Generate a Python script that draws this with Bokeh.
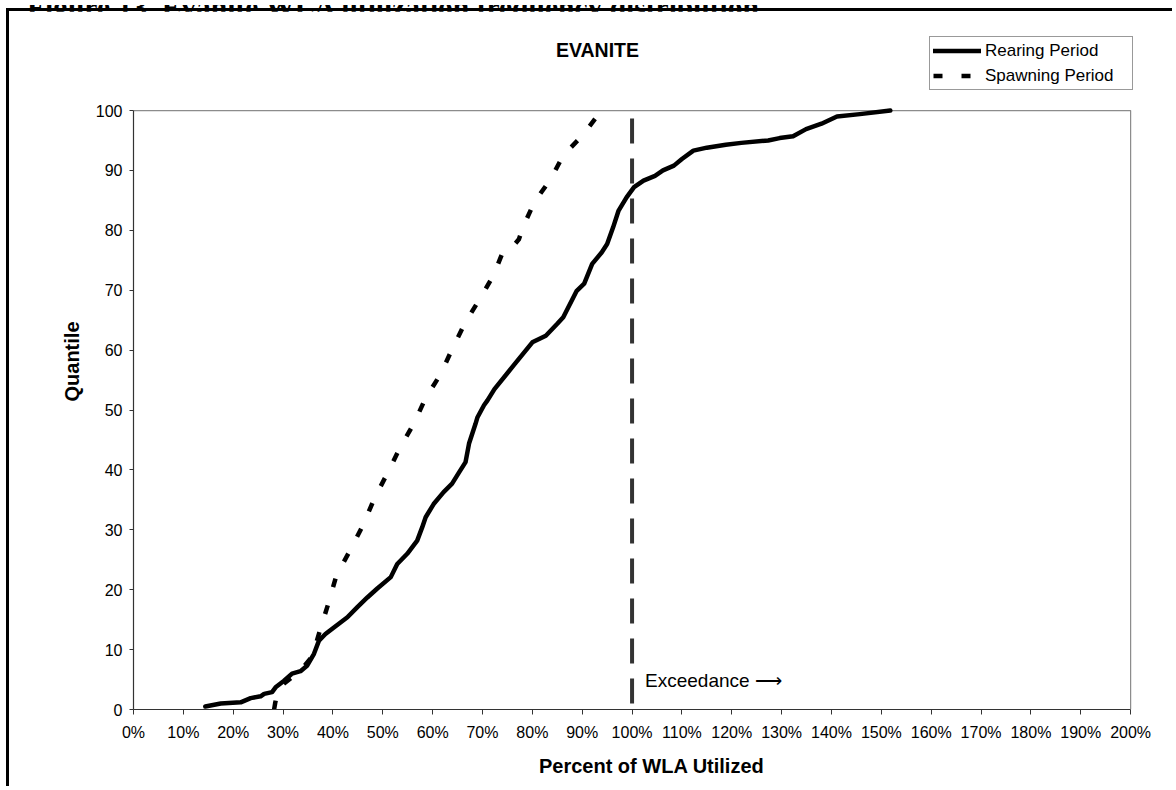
from bokeh.plotting import figure
from bokeh.models import (Range1d, FixedTicker, PrintfTickFormatter, Legend,
                          LegendItem, Label, Div)
from bokeh.layouts import column
from bokeh.embed import file_html
from bokeh.resources import INLINE

# ---------------- data ----------------
rearing_pct = [14.4, 17.5, 21.5, 23.5, 25.5, 26.2, 27.8, 28.5, 30.2, 31.8,
               33.5, 34.8, 36.2, 37.2, 38.5, 40.2, 42.9, 44.9, 46.9, 48.9,
               51.6, 52.9, 54.9, 56.9, 57.9, 58.6, 60.2, 62.2, 63.9, 65.3,
               66.6, 67.3, 68.6, 69.0, 70.3, 71.0, 72.4, 76.2, 80.0, 82.7,
               85.0, 86.2, 88.9, 90.4, 92.0, 93.9, 95.0, 96.2, 97.3, 98.9,
               100.4, 102.3, 104.6, 106.2, 108.4, 110.0, 112.3, 115.0, 118.8, 121.9,
               127.3, 129.6, 132.3, 134.9, 138.0, 141.1, 145.7, 151.8]
rearing_q = [0.5, 1.0, 1.2, 1.9, 2.2, 2.6, 2.9, 3.7, 4.8, 6.0,
             6.4, 7.3, 9.3, 11.5, 12.6, 13.7, 15.4, 17.1, 18.7, 20.2,
             22.1, 24.3, 26.0, 28.2, 30.4, 32.1, 34.3, 36.3, 37.7, 39.6,
             41.3, 44.4, 47.7, 48.8, 50.8, 51.6, 53.5, 57.4, 61.3, 62.4,
             64.4, 65.5, 69.9, 71.1, 74.4, 76.3, 77.7, 80.5, 83.3, 85.5,
             87.2, 88.3, 89.1, 90.0, 90.8, 91.9, 93.3, 93.8, 94.3, 94.6,
             95.0, 95.4, 95.7, 96.9, 97.8, 99.0, 99.4, 100.0]

spawning_pct = [28.2, 28.4, 28.8, 30.0, 31.8, 33.8, 35.8, 37.4, 39.2, 40.7,
                43.4, 46.0, 48.3, 50.9, 53.4, 56.2, 58.6, 61.6, 64.1, 66.6,
                69.5, 72.2, 74.0, 75.8, 77.3, 78.1, 80.4, 83.7, 86.2, 90.0,
                93.5, 94.2]
spawning_q = [0.0, 1.0, 2.6, 4.2, 5.4, 6.8, 8.8, 13.2, 18.0, 22.4,
              26.5, 30.7, 35.2, 39.4, 43.6, 47.7, 52.0, 56.0, 60.5, 64.7,
              68.6, 72.5, 76.2, 77.0, 78.5, 80.5, 84.7, 88.6, 92.5, 95.8,
              99.6, 100.0]

threshold_pct = 100

x_ticks = [0, 10, 20, 30, 40, 50, 60, 70, 80, 90, 100,
           110, 120, 130, 140, 150, 160, 170, 180, 190, 200]
y_ticks = [0, 10, 20, 30, 40, 50, 60, 70, 80, 90, 100]

series_names = ["Rearing Period", "Spawning Period"]
chart_title = "EVANITE"
x_title = "Percent of  WLA Utilized"
y_title = "Quantile"
note_text = "Exceedance \u27f6"
caption_text = "Figure 13  Evanite WLA utilization frequency distribution."

# ---------------- caption (only its lower edge shows, as in the original) ----
caption = Div(
    text=('<div style="font-family: \'Liberation Serif\'; font-weight: bold; '
          'font-size: 29.5px; line-height: 29.5px; margin-top: -20px; '
          'margin-left: 22px; white-space: pre; color: black;">'
          + caption_text + '</div>'),
    width=1176, height=8,
    styles={"position": "absolute", "top": "0px", "left": "0px",
            "height": "8px", "overflow": "hidden"})

# ---------------- figure ----------------
FONT = "Liberation Sans"
X_MIN, X_MAX = x_ticks[0], x_ticks[-1]
Y_MIN, Y_MAX = y_ticks[0], y_ticks[-1]

# frame extends past the plot box (to the right and up) so that the
# legend and the title, which sit above the box, are not clipped
p = figure(width=1166, height=778, output_backend="svg", toolbar_location=None,
           x_range=Range1d(X_MIN, 209.0), y_range=Range1d(Y_MIN, 116.2),
           min_border_left=124, min_border_right=0,
           min_border_top=2, min_border_bottom=80)
p.styles = {"margin-left": "6px", "margin-top": "8px",
            "border-left": "3px solid black", "border-top": "3px solid black"}
p.background_fill_color = "white"
p.border_fill_color = "white"
p.outline_line_color = None
p.xgrid.grid_line_color = None
p.ygrid.grid_line_color = None

# plot-area box edges (top and right), grey like the original
p.line([X_MIN, X_MAX, X_MAX], [Y_MAX, Y_MAX, Y_MIN],
       line_color="#8c8c8c", line_width=1.2)

r1 = p.line(rearing_pct, rearing_q, line_color="black", line_width=4.5,
            line_join="round", line_cap="round")
r2 = p.line(spawning_pct, spawning_q, line_color="black", line_width=4.5,
            line_dash="9 19", line_join="round")
p.line([threshold_pct, threshold_pct], [Y_MAX, Y_MIN], line_color="#333333",
       line_width=4, line_dash="25 15", line_dash_offset=32)

# axes
p.xaxis.ticker = FixedTicker(ticks=x_ticks)
p.xaxis.formatter = PrintfTickFormatter(format="%d%%")
p.yaxis.ticker = FixedTicker(ticks=y_ticks)
p.xaxis.bounds = (X_MIN, X_MAX)
p.yaxis.bounds = (Y_MIN, Y_MAX)
for ax in (p.xaxis[0], p.yaxis[0]):
    ax.axis_line_color = "#333333"
    ax.axis_line_width = 1.2
    ax.major_tick_line_color = "#333333"
    ax.minor_tick_line_color = None
    ax.major_tick_in = 0
    ax.major_label_text_font = FONT
    ax.major_label_text_font_size = "16px"
    ax.major_label_text_color = "black"
    ax.axis_label_text_font = FONT
    ax.axis_label_text_font_size = "20px"
    ax.axis_label_text_font_style = "bold"
    ax.axis_label_text_color = "black"
p.xaxis.major_tick_out = 5
p.yaxis.major_tick_out = 4
p.xaxis.major_label_standoff = 9
p.yaxis.major_label_standoff = 7
p.xaxis.axis_label = x_title
p.yaxis.axis_label = y_title
p.xaxis.axis_label_standoff = 11
p.yaxis.axis_label_standoff = 10

# legend (bottom-left corner given in pixels from the frame's bottom-left)
legend = Legend(items=[LegendItem(label=series_names[0], renderers=[r1]),
                       LegendItem(label=series_names[1], renderers=[r2])],
                location=(796, 619), orientation="vertical",
                border_line_color="#333333", border_line_width=1,
                background_fill_color="white", background_fill_alpha=1,
                padding=3, spacing=4, margin=0,
                glyph_width=48, glyph_height=21, label_height=21,
                label_width=144, label_standoff=4,
                label_text_font=FONT, label_text_font_size="17px",
                label_text_color="black", label_text_baseline="middle")
p.add_layout(legend)

# title and note
p.add_layout(Label(x=464, y=660, x_units="screen", y_units="screen",
                   text=chart_title, text_font=FONT, text_font_size="19.5px",
                   text_font_style="bold", text_align="center",
                   text_baseline="middle", text_color="black"))
p.add_layout(Label(x=102.6, y=4.85, text=note_text, text_font=FONT,
                   text_font_size="19px", text_align="left",
                   text_baseline="middle", text_color="black"))

layout = column(caption, p, spacing=0)
open("out.html", "w").write(file_html(layout, INLINE))
